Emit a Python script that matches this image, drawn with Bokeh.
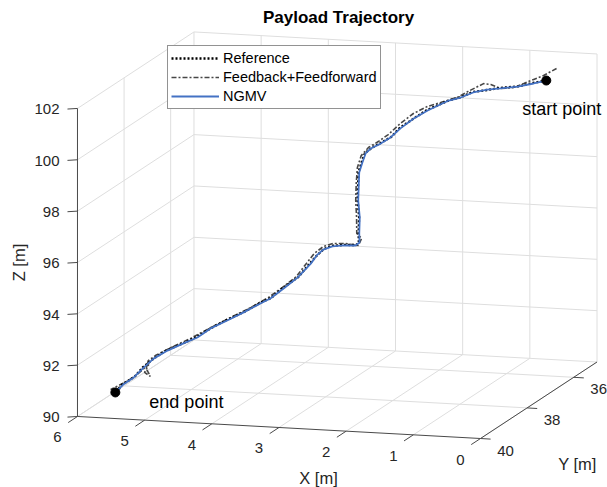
import numpy as np
from bokeh.plotting import figure
from bokeh.models import Range1d, Legend, LegendItem
from bokeh.core.properties import value
from bokeh.embed import file_html
from bokeh.resources import INLINE

# ---------------- data ----------------
title_text = "Payload Trajectory"
x_ticks = [0, 1, 2, 3, 4, 5, 6]
y_ticks = [36, 38, 40]
z_ticks = [90, 92, 94, 96, 98, 100, 102]
x_lim = [0, 6]
y_lim = [35, 40]
z_lim = [90, 102]

ngmv_x = [0.20, 0.37, 0.59, 0.83, 1.01, 1.20, 1.37, 1.53, 1.64, 1.81, 2.00, 2.18, 2.31, 2.44, 2.57,
          2.63, 2.66, 2.69, 2.68, 2.67, 2.63, 2.62, 2.60, 2.64, 2.80, 2.95, 3.07, 3.15, 3.22, 3.40,
          3.59, 3.77, 3.90, 4.14, 4.36, 4.59, 4.77, 4.96, 5.18, 5.37, 5.50, 5.63, 5.77, 5.87]
ngmv_y = [36.60, 36.65, 36.70, 36.75, 36.80, 36.85, 36.90, 36.95, 37.00, 37.05, 37.10, 37.15, 37.20,
          37.25, 37.30, 37.35, 37.40, 37.45, 37.50, 37.55, 37.60, 37.65, 37.70, 37.75, 37.80, 37.85,
          37.90, 37.95, 38.00, 38.05, 38.10, 38.15, 38.20, 38.25, 38.30, 38.35, 38.40, 38.45, 38.50,
          38.55, 38.60, 38.65, 38.70, 38.75]
ngmv_z = [101.89, 101.78, 101.66, 101.58, 101.54, 101.43, 101.24, 101.13, 100.99, 100.76, 100.45,
          100.07, 99.73, 99.50, 99.32, 99.15, 98.82, 98.46, 97.98, 97.43, 96.80, 96.21, 95.89, 95.80,
          95.81, 95.78, 95.67, 95.46, 95.16, 94.62, 94.20, 93.81, 93.63, 93.27, 92.96, 92.65, 92.30,
          92.07, 91.79, 91.48, 91.14, 90.77, 90.50, 90.21]

ref_x = [0.20, 0.38, 0.58, 0.84, 1.00, 1.21, 1.36, 1.54, 1.63, 1.82, 1.99, 2.19, 2.30, 2.45, 2.56,
         2.64, 2.67, 2.70, 2.69, 2.68, 2.64, 2.63, 2.61, 2.63, 2.79, 2.96, 3.06, 3.14, 3.23, 3.39,
         3.60, 3.76, 3.91, 4.13, 4.37, 4.58, 4.78, 4.95, 5.19, 5.36, 5.51, 5.62, 5.78, 5.87]
ref_y = [36.60, 36.65, 36.70, 36.75, 36.80, 36.85, 36.90, 36.95, 37.00, 37.05, 37.10, 37.15, 37.20,
         37.25, 37.30, 37.35, 37.40, 37.45, 37.50, 37.55, 37.60, 37.65, 37.70, 37.75, 37.80, 37.85,
         37.90, 37.95, 38.00, 38.05, 38.10, 38.15, 38.20, 38.25, 38.30, 38.35, 38.40, 38.45, 38.50,
         38.55, 38.60, 38.65, 38.70, 38.75]
ref_z = [101.89, 101.80, 101.67, 101.60, 101.53, 101.45, 101.26, 101.12, 101.01, 100.78, 100.47,
         100.09, 99.75, 99.51, 99.34, 99.16, 98.84, 98.47, 97.99, 97.45, 96.81, 96.23, 95.91, 95.82,
         95.83, 95.80, 95.69, 95.48, 95.18, 94.64, 94.22, 93.83, 93.65, 93.29, 92.98, 92.67, 92.32,
         92.09, 91.81, 91.50, 91.16, 90.79, 90.52, 90.21]

ff_x = [0.29, 0.31, 0.37, 0.50, 0.64, 0.81, 0.94, 1.03, 1.13, 1.23, 1.37, 1.60, 1.78, 1.97, 2.15,
        2.31, 2.44, 2.57, 2.66, 2.70, 2.70, 2.69, 2.66, 2.64, 2.55, 2.58, 2.76, 2.92, 3.05, 3.17,
        3.28, 3.40, 3.59, 3.78, 4.03, 4.31, 4.59, 4.87, 5.15, 5.36, 5.45, 5.47, 5.40, 5.48, 5.41,
        5.56, 5.70, 5.84, 5.95, 5.80, 5.88]
ff_y = [35.90, 36.40, 36.65, 36.70, 36.75, 36.80, 36.85, 36.90, 36.95, 37.00, 37.05, 37.10, 37.15,
        37.20, 37.25, 37.30, 37.35, 37.40, 37.45, 37.50, 37.55, 37.60, 37.65, 37.70, 37.75, 37.80,
        37.85, 37.90, 37.95, 38.00, 38.05, 38.10, 38.15, 38.20, 38.25, 38.30, 38.35, 38.40, 38.45,
        38.50, 38.55, 38.58, 38.60, 38.62, 38.64, 38.66, 38.68, 38.70, 38.72, 38.74, 38.75]
ff_z = [101.93, 101.95, 101.94, 101.79, 101.64, 101.61, 101.78, 101.83, 101.69, 101.55, 101.33,
        101.13, 100.98, 100.71, 100.32, 99.90, 99.64, 99.42, 99.12, 98.68, 98.09, 97.46, 96.83,
        96.24, 96.09, 95.84, 95.92, 95.93, 95.82, 95.56, 95.15, 94.69, 94.27, 93.88, 93.48, 93.08,
        92.68, 92.25, 91.88, 91.57, 91.39, 91.10, 90.81, 90.97, 91.30, 90.94, 90.66, 90.45, 90.30,
        90.37, 90.21]

start_pt = [0.20, 36.60, 101.89]
end_pt = [5.87, 38.75, 90.21]

# ---------------- 3-D view (orthographic projection to page pixels) ----------------
W, H = 607, 487
ORIGIN = (480.0, 438.0)          # page position of (x=0, y=40, z=90)
EX = (-67.17, -3.67)             # page shift per +1 in x
EY = (-23.3, 15.3)               # page shift per +1 in y
EZ = (0.0, -25.67)               # page shift per +1 in z


def proj(x, y, z):
    x = np.asarray(x, float) - x_lim[0]
    y = np.asarray(y, float) - y_lim[1]
    z = np.asarray(z, float) - z_lim[0]
    sx = ORIGIN[0] + EX[0] * x + EY[0] * y + EZ[0] * z
    sy = ORIGIN[1] + EX[1] * x + EY[1] * y + EZ[1] * z
    return sx, sy


def seg(p0, p1):
    a = proj(*p0)
    b = proj(*p1)
    return [float(a[0]), float(b[0])], [float(a[1]), float(b[1])]


p = figure(width=W, height=H, x_range=Range1d(0, W), y_range=Range1d(H, 0),
           output_backend="svg", toolbar_location=None, min_border=0,
           x_axis_location=None, y_axis_location=None)
p.grid.visible = False
p.outline_line_color = None
p.background_fill_color = "white"
p.border_fill_color = "white"

FONT_NAME = "Liberation Sans"
FONT = value(FONT_NAME)
TXT = "#262626"

# ---------------- grid ----------------
gx, gy = [], []
x0, x1 = x_lim
y0, y1 = y_lim
z0, z1 = z_lim
for xt in x_ticks:
    for a, b in [((xt, y0, z0), (xt, y0, z1)), ((xt, y0, z0), (xt, y1, z0))]:
        sx, sy = seg(a, b); gx.append(sx); gy.append(sy)
for yt in [t for t in y_ticks if t < y1]:
    for a, b in [((x1, yt, z0), (x1, yt, z1)), ((x0, yt, z0), (x1, yt, z0))]:
        sx, sy = seg(a, b); gx.append(sx); gy.append(sy)
for zt in z_ticks:
    for a, b in [((x0, y0, zt), (x1, y0, zt)), ((x1, y0, zt), (x1, y1, zt))]:
        sx, sy = seg(a, b); gx.append(sx); gy.append(sy)
p.multi_line(gx, gy, line_color="#dedede", line_width=1)

# ---------------- axis lines ----------------
ax_x, ax_y = [], []
for a, b in [((x0, y1, z0), (x1, y1, z0)), ((x0, y0, z0), (x0, y1, z0)), ((x1, y1, z0), (x1, y1, z1))]:
    sx, sy = seg(a, b); ax_x.append(sx); ax_y.append(sy)

# ticks
for xt in x_ticks:
    sx, sy = proj(xt, y1, z0)
    ax_x.append([float(sx), float(sx) - 9.3]); ax_y.append([float(sy), float(sy) + 6.1])
for yt in y_ticks:
    sx, sy = proj(x0, yt, z0)
    ax_x.append([float(sx), float(sx) + 10.1]); ax_y.append([float(sy), float(sy) + 0.6])
for zt in z_ticks:
    sx, sy = proj(x1, y1, zt)
    ax_x.append([float(sx), float(sx) - 10]); ax_y.append([float(sy), float(sy) + 0.6])
p.multi_line(ax_x, ax_y, line_color="#4a4a4a", line_width=1)

# tick labels
sx, sy = proj(x_ticks, [y1] * len(x_ticks), [z0] * len(x_ticks))
p.text(x=list(sx - 20), y=list(sy + 21), text=[str(t) for t in x_ticks], text_font=FONT,
       text_font_size="15px", text_color=TXT, text_align="center", text_baseline="middle")
sx, sy = proj([x0] * len(y_ticks), y_ticks, [z0] * len(y_ticks))
p.text(x=list(sx + 25), y=list(sy + 12), text=[str(t) for t in y_ticks], text_font=FONT,
       text_font_size="15px", text_color=TXT, text_align="center", text_baseline="middle")
sx, sy = proj([x1] * len(z_ticks), [y1] * len(z_ticks), z_ticks)
p.text(x=list(sx - 18), y=list(sy + 1), text=[str(t) for t in z_ticks], text_font=FONT,
       text_font_size="15px", text_color=TXT, text_align="right", text_baseline="middle")

# axis labels and title
p.text(x=[318], y=[477], text=["X [m]"], text_font=FONT, text_font_size="16.5px",
       text_color=TXT, text_align="center", text_baseline="middle")
p.text(x=[577], y=[463], text=["Y [m]"], text_font=FONT, text_font_size="16.5px",
       text_color=TXT, text_align="center", text_baseline="middle")
p.text(x=[18], y=[262], text=["Z [m]"], text_font=FONT, text_font_size="16.5px",
       text_color=TXT, text_align="center", text_baseline="middle", angle=np.pi / 2)
p.text(x=[338], y=[17], text=[title_text], text_font=FONT, text_font_size="17px",
       text_font_style="bold", text_color="#000000", text_align="center", text_baseline="middle")

# ---------------- trajectories ----------------
rx, ry = proj(ref_x, ref_y, ref_z)
fx, fy = proj(ff_x, ff_y, ff_z)
nx, ny = proj(ngmv_x, ngmv_y, ngmv_z)

r_ff = p.line(list(fx), list(fy), line_color="#474747", line_width=1.6, line_dash="5 2 2 2")
r_ref = p.line(list(rx), list(ry), line_color="#000000", line_width=2.3, line_dash="2 2")
r_ngmv = p.line(list(nx), list(ny), line_color="#4472c4", line_width=1.8)

# start / end points
spx, spy = proj([start_pt[0], end_pt[0]], [start_pt[1], end_pt[1]], [start_pt[2], end_pt[2]])
p.scatter(list(spx), list(spy), size=9, color="black")
p.text(x=[float(spx[0]) - 24], y=[float(spy[0]) + 28], text=["start point"], text_font=FONT,
       text_font_size="18px", text_color="black", text_align="left", text_baseline="middle")
p.text(x=[float(spx[1]) + 34], y=[float(spy[1]) + 10], text=["end point"], text_font=FONT,
       text_font_size="18px", text_color="black", text_align="left", text_baseline="middle")

# ---------------- legend ----------------
legend = Legend(items=[LegendItem(label="Reference", renderers=[r_ref]),
                       LegendItem(label="Feedback+Feedforward", renderers=[r_ff]),
                       LegendItem(label="NGMV", renderers=[r_ngmv])],
                location=(167, H - 109), orientation="vertical",
                label_text_font=FONT_NAME, label_text_font_size="14.5px", label_text_color="#000000",
                glyph_width=48, glyph_height=18, label_height=18, label_standoff=4,
                spacing=1, padding=3, margin=0,
                border_line_color="#262626", border_line_width=1,
                background_fill_color="white", background_fill_alpha=1.0)
p.add_layout(legend, "center")

open("out.html", "w").write(file_html(p, INLINE))
